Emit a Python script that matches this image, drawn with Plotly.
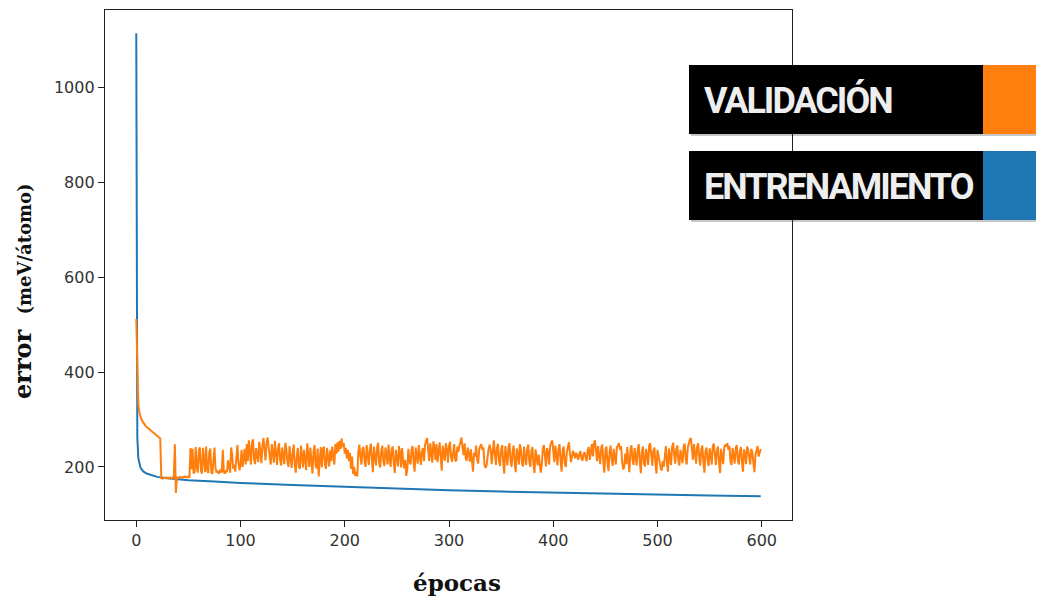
import plotly.graph_objects as go

# ---------------- data ----------------
train_epochs = [0, 1, 2, 3, 4, 5, 7, 10, 15, 20, 30, 40, 50, 75, 100, 150,
                200, 250, 300, 350, 400, 450, 500, 550, 599]
train_error = [1115, 262, 218, 205, 199, 195, 190, 186, 182, 179, 176, 174,
               172, 169, 166, 162, 158, 154.5, 151, 148, 145.5, 143, 141,
               139.5, 138]

val_error = [
    512, 375, 330, 315, 306, 300, 296, 292, 289, 286,
    284, 282, 280, 278, 276, 274, 272, 270, 268, 266,
    265, 263, 262, 260, 176, 175, 176, 177, 176, 178,
    177, 176, 178, 177, 176, 178, 177, 248, 145, 178,
    177, 178, 179, 178, 177, 179, 178, 180, 179, 178,
    180, 179, 240, 195, 238, 186, 190, 242, 200, 188,
    236, 241, 192, 186, 240, 218, 189, 243, 195, 187,
    230, 239, 188, 186, 212, 241, 197, 188, 192, 186,
    189, 195, 188, 236, 190, 186, 192, 189, 214, 195,
    188, 241, 225, 196, 205, 190, 222, 246, 210, 193,
    205, 236, 200, 215, 238, 205, 248, 212, 256, 230,
    205, 251, 258, 215, 206, 240, 225, 210, 253, 232,
    208, 245, 261, 236, 214, 252, 262, 240, 218, 205,
    248, 233, 209, 255, 224, 204, 238, 250, 215, 203,
    241, 228, 206, 251, 237, 210, 200, 244, 212, 198,
    230, 247, 205, 188, 222, 240, 200, 196, 245, 218,
    199, 236, 204, 193, 250, 226, 200, 241, 209, 186,
    232, 246, 203, 197, 239, 180, 214, 242, 199, 236,
    243, 205, 196, 240, 220, 201, 235, 212, 243, 220,
    205, 248, 228, 252, 232, 255, 238, 260, 242, 250,
    228, 240, 218, 236, 212, 230, 196, 222, 185, 200,
    181, 190, 180, 232, 247, 222, 205, 238, 242, 210,
    200, 246, 227, 204, 236, 249, 215, 189, 243, 220,
    203, 240, 251, 208, 199, 233, 245, 212, 202, 241,
    228, 205, 247, 218, 200, 238, 243, 207, 187, 236,
    223, 201, 244, 230, 199, 240, 213, 197, 215, 181,
    196, 238, 212, 205, 235, 244, 210, 190, 241, 226,
    207, 246, 218, 204, 232, 240, 212, 246, 255, 261,
    236, 212, 250, 228, 209, 254, 242, 215, 248, 210,
    236, 252, 221, 192, 245, 231, 213, 250, 238, 209,
    244, 253, 220, 211, 239, 248, 214, 212, 243, 232,
    245, 258, 262, 240, 225, 250, 218, 213, 241, 229,
    211, 237, 214, 190, 230, 222, 245, 215, 207, 238,
    244, 248, 236, 241, 205, 198, 203, 230, 238, 247,
    235, 206, 243, 256, 228, 204, 240, 249, 213, 202,
    237, 246, 210, 186, 244, 226, 203, 241, 250, 212,
    200, 234, 245, 208, 189, 239, 227, 205, 248, 236,
    207, 201, 243, 219, 204, 238, 247, 211, 200, 233,
    242, 206, 187, 237, 221, 203, 226, 197, 188, 204,
    239, 246, 213, 201, 240, 230, 205, 244, 252, 256,
    234, 210, 245, 222, 203, 238, 248, 212, 190, 236,
    243, 208, 200, 231, 246, 252, 229, 210, 222, 234,
    226, 218, 230, 224, 215, 228, 233, 219, 213, 227,
    231, 220, 212, 235, 242, 215, 238, 248, 222, 250,
    256, 236, 212, 244, 225, 206, 240, 247, 210, 188,
    236, 243, 207, 191, 232, 245, 216, 202, 238, 224,
    205, 241, 245, 250, 236, 244, 212, 195, 199, 228,
    206, 242, 213, 189, 235, 246, 215, 204, 240, 221,
    203, 237, 248, 211, 187, 232, 243, 207, 201, 238,
    226, 204, 245, 250, 214, 202, 234, 241, 208, 186,
    236, 223, 205, 198, 192, 212, 200, 230, 244, 209,
    190, 239, 218, 204, 242, 251, 226, 207, 238, 245,
    213, 203, 236, 224, 208, 243, 249, 217, 205, 240,
    252, 258, 261, 238, 215, 248, 230, 207, 242, 250,
    219, 203, 237, 245, 210, 188, 233, 241, 214, 202,
    239, 227, 205, 244, 249, 216, 204, 235, 243, 209,
    187, 238, 225, 206, 241, 247, 243, 250, 236, 244,
    211, 204, 240, 222, 207, 239, 246, 214, 205, 233,
    242, 210, 190, 237, 228, 206, 243, 236, 212, 205,
    238, 230, 208, 189, 226, 240, 244, 222, 231, 238,
]
val_epochs = list(range(len(val_error)))

x_ticks = [0, 100, 200, 300, 400, 500, 600]
y_ticks = [200, 400, 600, 800, 1000]

legend_labels = ["VALIDACIÓN", "ENTRENAMIENTO"]
legend_colors = ["#ff7f0e", "#1f77b4"]

# ---------------- layout geometry (screen pixels) ----------------
OFF = 8                      # page body margin
W, H = 1044 - OFF, 598 - OFF
L, R, T, B = 105, 792, 10, 520
pw, ph = R - L, B - T


def px(x):
    return (x - L) / pw


def py(y):
    return (B - y) / ph


fig = go.Figure()
fig.add_trace(go.Scatter(x=train_epochs, y=train_error, mode="lines",
                         line=dict(color="#1f77b4", width=2),
                         showlegend=False, hoverinfo="skip"))
fig.add_trace(go.Scatter(x=val_epochs, y=val_error, mode="lines",
                         line=dict(color="#ff7f0e", width=2),
                         showlegend=False, hoverinfo="skip"))

tick_font = dict(family="DejaVu Sans", size=16, color="#333333")
axis_common = dict(ticks="outside", ticklen=6, tickwidth=1.2, tickcolor="#222",
                   showline=True, linecolor="#222", linewidth=1.4, mirror=True,
                   showgrid=False, zeroline=False, tickfont=tick_font)
fig.update_xaxes(range=[-30, 629], tickvals=x_ticks, **axis_common)
fig.update_yaxes(range=[88, 1164], tickvals=y_ticks, **axis_common)

shapes = []
annotations = []

# axis titles
annotations.append(dict(x=px(457), y=py(582), xref="paper", yref="paper",
                        text="<b>épocas</b>", showarrow=False,
                        xanchor="center", yanchor="middle",
                        font=dict(family="DejaVu Serif", size=23, color="#111")))
annotations.append(dict(x=px(22), y=py(291), xref="paper", yref="paper",
                        text="<b>error</b>  <span style='font-size:18px'><b>(meV/átomo)</b></span>",
                        showarrow=False, textangle=-90,
                        xanchor="center", yanchor="middle",
                        font=dict(family="DejaVu Serif", size=24, color="#111")))

# legend boxes
box_tops = [65, 151]
box_h = 69
for lab, col, top in zip(legend_labels, legend_colors, box_tops):
    shapes.append(dict(type="rect", xref="paper", yref="paper",
                       x0=px(691), x1=px(1046), y0=py(top + box_h + 2), y1=py(top + 2),
                       fillcolor="rgba(0,0,0,0.22)", line=dict(width=0), layer="above"))
    shapes.append(dict(type="rect", xref="paper", yref="paper",
                       x0=px(689), x1=px(983), y0=py(top + box_h), y1=py(top),
                       fillcolor="#000000", line=dict(width=0), layer="above"))
    shapes.append(dict(type="rect", xref="paper", yref="paper",
                       x0=px(983), x1=px(1044), y0=py(top + box_h), y1=py(top),
                       fillcolor=col, line=dict(width=0), layer="above"))
    annotations.append(dict(x=px(702), y=py(top + box_h / 2 + 1), xref="paper", yref="paper",
                            text="<span style='letter-spacing:-2px'><b>" + lab + "</b></span>",
                            showarrow=False, xanchor="left", yanchor="middle",
                            font=dict(family="Roboto", size=36, color="#eeeeee")))

fig.update_layout(width=W, height=H,
                  margin=dict(l=L - OFF, r=W - (R - OFF), t=T - OFF, b=H - (B - OFF)),
                  paper_bgcolor="white", plot_bgcolor="white",
                  shapes=shapes, annotations=annotations)

fig.write_html("out.html")
